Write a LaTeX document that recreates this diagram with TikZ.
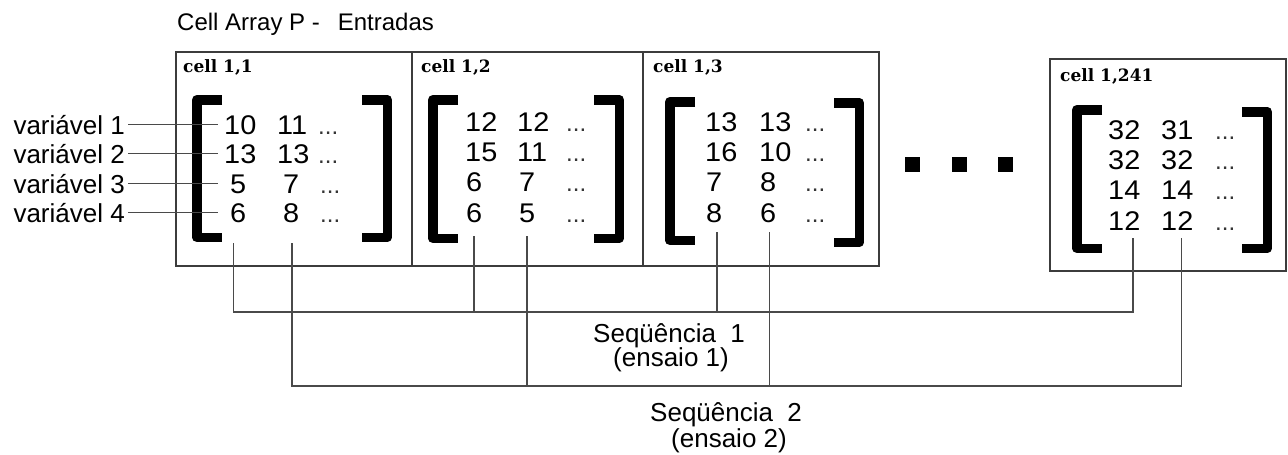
\documentclass[tikz,border=0pt]{standalone}
\usepackage{fontspec}
\setmainfont{Liberation Sans}
\newfontfamily\numfont{Liberation Sans}[FakeStretch=1.07]
\newfontfamily\cellfont{DejaVu Serif}
\definecolor{boxgray}{HTML}{3C3C3C}
\definecolor{linegray}{HTML}{4A4A4A}
\newcommand\mylbrk[3]{% x, top, bottom
  \draw[brk] (#1+30,#2+4.75) -- (#1+4.75,#2+4.75) -- (#1+4.75,#3-4.75) -- (#1+30,#3-4.75);}
\newcommand\myrbrk[3]{% x, top, bottom
  \draw[brk] (#1,#2+4.75) -- (#1+25.25,#2+4.75) -- (#1+25.25,#3-4.75) -- (#1,#3-4.75);}
\begin{document}
\begin{tikzpicture}[x=1pt,y=-1pt,
  title/.style={font=\fontsize{24}{24}\selectfont, inner sep=0, anchor=base west},
  lbl/.style={font=\fontsize{26}{26}\selectfont, inner sep=0, anchor=base west},
  num/.style={font=\numfont\fontsize{27}{27}\selectfont, inner sep=0, anchor=base west},
  dots/.style={font=\fontsize{24}{24}\selectfont, inner sep=0, anchor=base west, text=black!80},
  celllbl/.style={font=\cellfont\bfseries\fontsize{17}{17}\selectfont, inner sep=0, anchor=base west},
  cellbox/.style={draw=boxgray, line width=2pt},
  brk/.style={line width=9.5pt, line join=round, black},
  conn/.style={draw=linegray, line width=1.4pt},
  sq/.style={fill=black}]
\useasboundingbox (0,0) rectangle (1288,455);

% title
\node[title] (title) at (177,30) {Cell Array P -\hspace{18pt}Entradas};

% cell boxes
\draw[cellbox] (176,52) rectangle (412,266);
\draw[cellbox] (412,52) rectangle (643,266);
\draw[cellbox] (643,52) rectangle (879,266);
\draw[cellbox] (1050,59) rectangle (1286,271);

% cell labels
\node[celllbl] (c11) at (183,72) {cell 1,1};
\node[celllbl] (c12) at (421,72) {cell 1,2};
\node[celllbl] (c13) at (653,72) {cell 1,3};
\node[celllbl] (c1241) at (1060,81) {cell 1,241};

% brackets
\mylbrk{192}{95}{242}  \myrbrk{362}{95}{242}
\mylbrk{428}{95}{243}  \myrbrk{594}{95}{243}
\mylbrk{665}{97}{245}  \myrbrk{834}{98}{247}
\mylbrk{1072}{105}{253} \myrbrk{1242}{107}{253}

% box 1 numbers
\node[num] (a11) at (224,134) {10};  \node[num] (a12) at (277,134) {11}; \node[dots] at (318,134) {...};
\node[num] (a21) at (224,163) {13};  \node[num] (a22) at (277,163) {13}; \node[dots] at (318,163) {...};
\node[num] (a31) at (230,193) {5};   \node[num] (a32) at (283,193) {7};  \node[dots] at (320,193) {...};
\node[num] (a41) at (230,222) {6};   \node[num] (a42) at (283,222) {8};  \node[dots] at (320,222) {...};

% box 2 numbers
\node[num] (b11) at (465,131) {12};  \node[num] (b12) at (517,131) {12}; \node[dots] at (566,131) {...};
\node[num] (b21) at (465,161) {15};  \node[num] (b22) at (517,161) {11}; \node[dots] at (566,161) {...};
\node[num] (b31) at (466,191) {6};   \node[num] (b32) at (519,191) {7};  \node[dots] at (566,191) {...};
\node[num] (b41) at (466,222) {6};   \node[num] (b42) at (519,222) {5};  \node[dots] at (566,222) {...};

% box 3 numbers
\node[num] (d11) at (705,131) {13};  \node[num] (d12) at (759,131) {13}; \node[dots] at (805,131) {...};
\node[num] (d21) at (705,161) {16};  \node[num] (d22) at (759,161) {10}; \node[dots] at (805,161) {...};
\node[num] (d31) at (706,191) {7};   \node[num] (d32) at (760,191) {8};  \node[dots] at (805,191) {...};
\node[num] (d41) at (706,222) {8};   \node[num] (d42) at (760,222) {6};  \node[dots] at (805,222) {...};

% box 4 numbers
\node[num] (e11) at (1108,139) {32}; \node[num] (e12) at (1161,139) {31}; \node[dots] at (1215,139) {...};
\node[num] (e21) at (1108,169) {32}; \node[num] (e22) at (1161,169) {32}; \node[dots] at (1215,169) {...};
\node[num] (e31) at (1108,199) {14}; \node[num] (e32) at (1161,199) {14}; \node[dots] at (1215,199) {...};
\node[num] (e41) at (1108,230) {12}; \node[num] (e42) at (1161,230) {12}; \node[dots] at (1215,230) {...};

% ellipsis squares
\fill[sq] (905,157) rectangle (920,172);
\fill[sq] (952,157) rectangle (967,172);
\fill[sq] (998,157) rectangle (1013,172);

% variable labels
\node[lbl, anchor=base east] (v1) at (125,134) {variável 1};
\node[lbl, anchor=base east] (v2) at (125,163) {variável 2};
\node[lbl, anchor=base east] (v3) at (125,193) {variável 3};
\node[lbl, anchor=base east] (v4) at (125,222) {variável 4};
\coordinate (vend) at (218,0);
\draw[conn] ([xshift=3pt]v1.east) -- (v1.east -| vend);
\draw[conn] ([xshift=3pt]v2.east) -- (v2.east -| vend);
\draw[conn] ([xshift=3pt]v3.east) -- (v3.east -| vend);
\draw[conn] ([xshift=3pt]v4.east) -- (v4.east -| vend);

% connector end points
\coordinate (p1) at (233.5,243); \coordinate (p2) at (474,236); \coordinate (p3) at (717,232); \coordinate (p4) at (1133,238);
\coordinate (q1) at (292,243);   \coordinate (q2) at (527,236); \coordinate (q3) at (769.5,232); \coordinate (q4) at (1181.5,238);
\coordinate (h1) at (0,312);
\coordinate (h2) at (0,386);

% sequence 1
\draw[conn] (p1) -- (p1 |- h1) -- (p4 |- h1) -- (p4);
\draw[conn] (p2) -- (p2 |- h1);
\draw[conn] (p3) -- (p3 |- h1);
% sequence 2
\draw[conn] (q1) -- (q1 |- h2) -- (q4 |- h2) -- (q4);
\draw[conn] (q2) -- (q2 |- h2);
\draw[conn] (q3) -- (q3 |- h2);

% sequence labels
\node[lbl] (s1) at (593,342) {Seqüência\ \ 1};
\node[lbl] (s1b) at (613,366) {(ensaio 1)};
\node[lbl] (s2) at (650,421) {Seqüência\ \ 2};
\node[lbl] (s2b) at (671,447) {(ensaio 2)};
\end{tikzpicture}
\end{document}
